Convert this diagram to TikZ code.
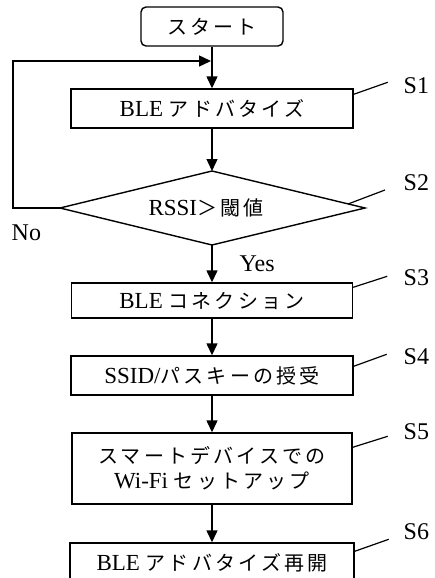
\documentclass[tikz,border=0pt]{standalone}
\usepackage{fontspec}
\setmainfont{Liberation Serif}
\newfontfamily\jpfont{Noto Sans CJK JP}[LetterSpace=16]
\newcommand\J[1]{{\fontsize{20}{25}\selectfont\jpfont #1}}
\usetikzlibrary{arrows.meta}
\begin{document}
\begin{tikzpicture}[x=1pt,y=-1pt,line width=1.4pt,
  box/.style={draw,rectangle,inner sep=0pt,align=center,font=\fontsize{23}{25}\selectfont},
  arr/.style={-{Triangle[length=12pt,width=11pt]}},
  lead/.style={line width=1.2pt},
  slab/.style={anchor=west,inner sep=0pt,font=\fontsize{24}{26}\selectfont},
  yn/.style={anchor=west,inner sep=0pt,font=\fontsize{24}{26}\selectfont}]
\useasboundingbox (0,0) rectangle (435,578);
\clip (0,0) rectangle (435,578);
% nodes
\node[box,rounded corners=5pt,minimum width=142pt,minimum height=39pt] (st) at (212,26.5) {\J{スタート}};
\node[box,minimum width=282pt,minimum height=39pt] (s1) at (212,108.5) {BLE \J{アドバタイズ}};
\coordinate (dt) at (212,171);
\coordinate (dl) at (60,208);
\coordinate (dr) at (365,208);
\coordinate (db) at (212,245);
\draw (dt) -- (dr) -- (db) -- (dl) -- cycle;
\node[font=\fontsize{23}{26}\selectfont,inner sep=0pt] (dtext) at (206,208) {RSSI\J{＞閾値}};
\node[box,minimum width=281pt,minimum height=35pt] (s3) at (212,300.5) {BLE \J{コネクション}};
\node[box,minimum width=282pt,minimum height=39pt] (s4) at (212,375.5) {SSID/\J{パスキーの授受}};
\node[box,minimum width=280pt,minimum height=71pt] (s5) at (212,468.5) {\J{スマートデバイスでの}\\Wi-Fi \J{セットアップ}};
\node[box,minimum width=284pt,minimum height=39pt] (s6) at (212,562.5) {BLE \J{アドバタイズ再開}};
% connectors
\coordinate (lc) at (13,208);
\coordinate (lp) at (211,61);
\draw[arr] (st) -- (s1);
\draw[arr] (s1) -- (dt);
\draw[arr] (db) -- (s3);
\draw[arr] (s3) -- (s4);
\draw[arr] (s4) -- (s5);
\draw[arr] (s5) -- (s6);
\draw[arr] (dl) -- (lc) |- (lp);
% labels
\node[yn] (no) at (11,233) {No};
\node[yn] (yes) at (239,264) {Yes};
\draw[lead] (s1.north east) ++(0,6) -- ++(34,-12);
\draw[lead] (348,204) -- (385,190);
\draw[lead] (s3.north east) ++(0,5) -- ++(34,-11);
\draw[lead] (s4.north east) ++(0,11) -- ++(33,-12);
\draw[lead] (s5.north east) ++(0,15) -- ++(35,-11);
\draw[lead] (s6.north east) ++(0,9) -- ++(34,-12);
\node[slab] (l1) at (403,86) {S1};
\node[slab] (l2) at (403,183) {S2};
\node[slab] (l3) at (403,278) {S3};
\node[slab] (l4) at (403,357) {S4};
\node[slab] (l5) at (403,432) {S5};
\node[slab] (l6) at (403,532) {S6};
\end{tikzpicture}
\end{document}
